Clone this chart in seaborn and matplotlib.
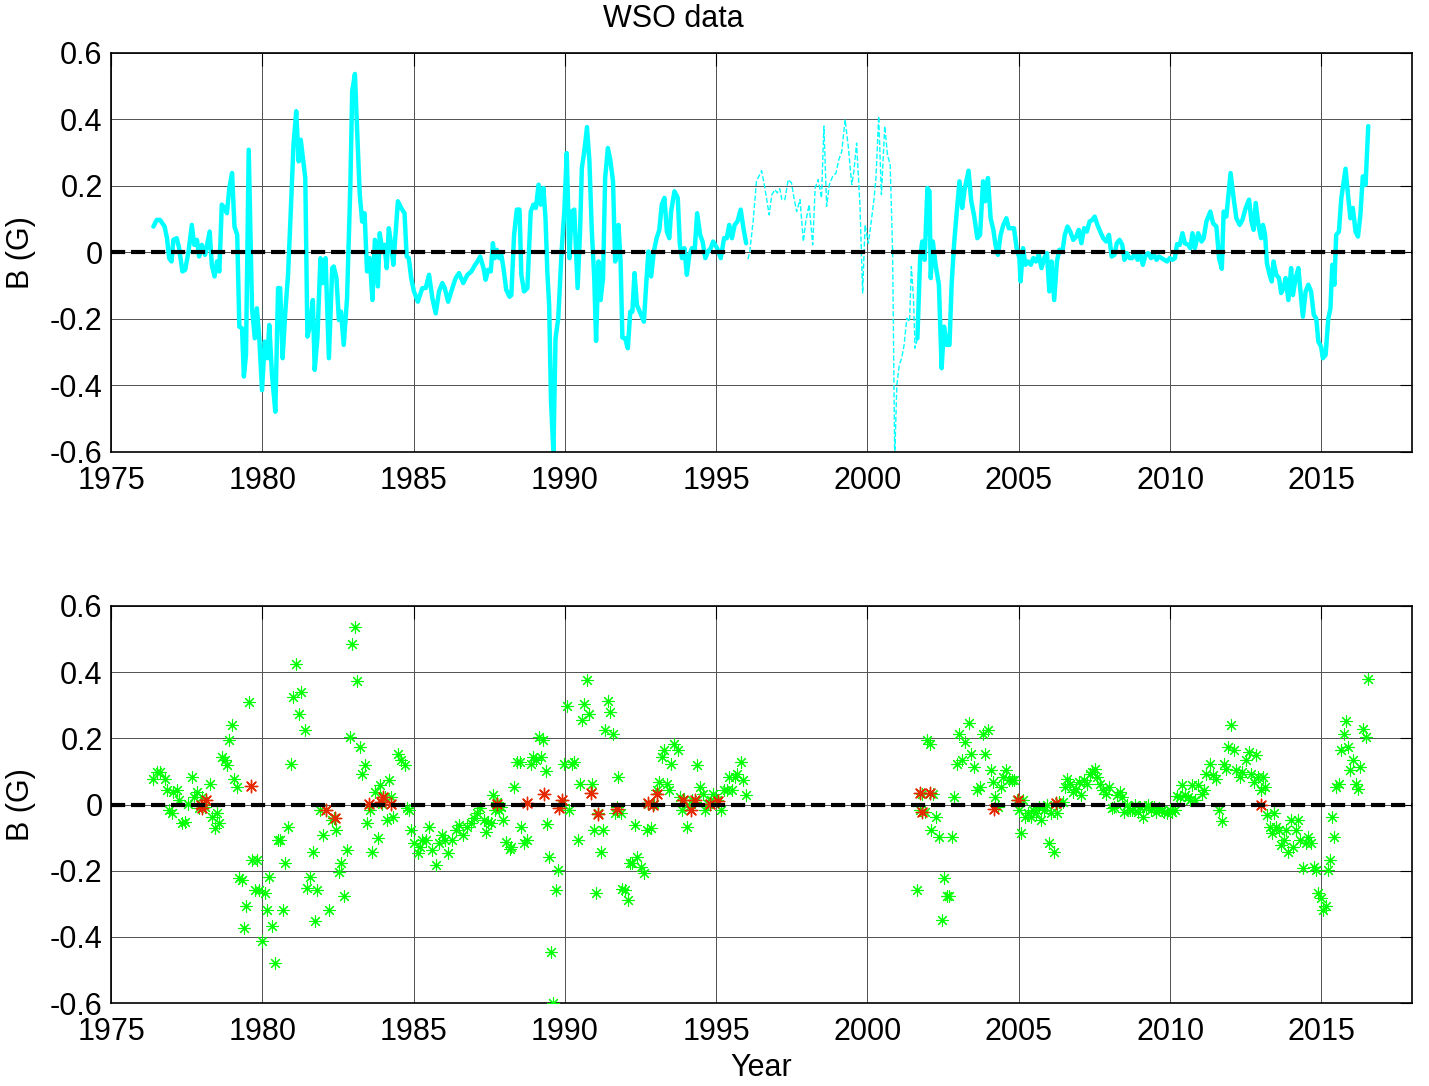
import numpy as np
import pandas as pd
import seaborn as sns
import matplotlib
matplotlib.use("Agg")
import matplotlib.pyplot as plt

# solid part 1 (1976-1996)
years_a = [1976.40, 1976.51, 1976.62, 1976.77, 1976.85, 1976.92, 1977.00, 1977.06, 1977.17, 1977.25,
           1977.36, 1977.45, 1977.56, 1977.67, 1977.75, 1977.84, 1977.91, 1978.00, 1978.11, 1978.26,
           1978.33, 1978.42, 1978.50, 1978.58, 1978.66, 1978.75, 1978.83, 1978.91, 1979.00, 1979.08,
           1979.17, 1979.24, 1979.33, 1979.39, 1979.46, 1979.55, 1979.66, 1979.75, 1979.82, 1979.90,
           1979.99, 1980.08, 1980.17, 1980.23, 1980.32, 1980.43, 1980.52, 1980.59, 1980.67, 1980.76,
           1980.85, 1980.94, 1981.03, 1981.12, 1981.20, 1981.27, 1981.42, 1981.49, 1981.58, 1981.67,
           1981.73, 1981.82, 1981.92, 1981.99, 1982.09, 1982.20, 1982.31, 1982.36, 1982.45, 1982.53,
           1982.60, 1982.69, 1982.80, 1982.91, 1982.97, 1983.06, 1983.13, 1983.22, 1983.30, 1983.38,
           1983.46, 1983.55, 1983.64, 1983.72, 1983.82, 1983.88, 1983.97, 1984.04, 1984.11, 1984.18,
           1984.26, 1984.33, 1984.48, 1984.59, 1984.70, 1984.77, 1984.84, 1984.92, 1985.01, 1985.14,
           1985.21, 1985.29, 1985.40, 1985.51, 1985.62, 1985.73, 1985.84, 1985.95, 1986.03, 1986.14,
           1986.28, 1986.39, 1986.50, 1986.64, 1986.78, 1986.91, 1987.00, 1987.11, 1987.20, 1987.31,
           1987.38, 1987.46, 1987.55, 1987.62, 1987.68, 1987.75, 1987.83, 1987.90, 1987.97, 1988.06,
           1988.17, 1988.23, 1988.32, 1988.41, 1988.50, 1988.56, 1988.65, 1988.76, 1988.87, 1988.96,
           1989.04, 1989.13, 1989.20, 1989.29, 1989.36, 1989.42, 1989.48, 1989.54, 1989.62, 1989.69,
           1989.78, 1989.89, 1989.98, 1990.06, 1990.15, 1990.22, 1990.31, 1990.42, 1990.50, 1990.56,
           1990.64, 1990.73, 1990.81, 1990.89, 1990.97, 1991.03, 1991.11, 1991.18, 1991.26, 1991.33,
           1991.42, 1991.50, 1991.59, 1991.66, 1991.71, 1991.77, 1991.84, 1991.90, 1991.99, 1992.08,
           1992.16, 1992.23, 1992.30, 1992.38, 1992.52, 1992.61, 1992.70, 1992.76, 1992.85, 1992.94,
           1993.03, 1993.12, 1993.20, 1993.29, 1993.37, 1993.45, 1993.51, 1993.62, 1993.73, 1993.80,
           1993.87, 1993.95, 1994.03, 1994.11, 1994.20, 1994.29, 1994.37, 1994.47, 1994.55, 1994.64,
           1994.73, 1994.82, 1994.90, 1995.03, 1995.15, 1995.26, 1995.35, 1995.43, 1995.52, 1995.61,
           1995.70, 1995.81, 1995.90, 1995.99]
vals_a = [0.078, 0.098, 0.098, 0.078, 0.043, -0.017, -0.027, 0.038, 0.043, 0.013,
          -0.057, -0.052, 0.003, 0.083, 0.023, 0.038, -0.012, 0.023, -0.007, 0.063,
          -0.037, -0.072, -0.027, -0.057, 0.144, 0.134, 0.118, 0.194, 0.239, 0.078,
          0.053, -0.223, -0.228, -0.373, -0.308, 0.309, -0.168, -0.258, -0.168, -0.258,
          -0.414, -0.268, -0.318, -0.218, -0.368, -0.479, -0.107, -0.107, -0.318, -0.178,
          -0.067, 0.123, 0.324, 0.425, 0.274, 0.339, 0.224, -0.253, -0.218, -0.143,
          -0.353, -0.258, -0.017, -0.092, -0.017, -0.318, -0.047, -0.042, -0.077, -0.203,
          -0.178, -0.278, -0.138, 0.204, 0.485, 0.537, 0.374, 0.174, 0.093, 0.118,
          -0.057, -0.017, -0.143, 0.038, -0.102, 0.058, 0.003, 0.023, -0.047, 0.073,
          0.023, -0.037, 0.154, 0.134, 0.118, -0.012, -0.017, -0.077, -0.117, -0.148,
          -0.128, -0.107, -0.107, -0.067, -0.138, -0.183, -0.117, -0.092, -0.107, -0.148,
          -0.107, -0.077, -0.062, -0.092, -0.067, -0.057, -0.042, -0.027, -0.012, -0.047,
          -0.082, -0.052, -0.057, 0.028, -0.017, 0.008, -0.017, -0.007, -0.047, -0.112,
          -0.133, -0.128, 0.053, 0.129, 0.129, -0.067, -0.117, -0.107, 0.123, 0.144,
          0.134, 0.204, 0.144, 0.194, 0.100, -0.060, -0.160, -0.446, -0.600, -0.258,
          -0.198, 0.003, 0.123, 0.299, -0.017, 0.123, 0.129, -0.107, 0.063, 0.254,
          0.304, 0.377, 0.274, 0.063, -0.077, -0.266, -0.027, -0.143, -0.077, 0.224,
          0.314, 0.279, 0.214, -0.027, -0.007, 0.083, -0.027, -0.256, -0.258, -0.288,
          -0.178, -0.178, -0.062, -0.158, -0.188, -0.208, -0.077, 0.003, -0.072, 0.003,
          0.043, 0.068, 0.144, 0.164, 0.063, 0.043, 0.123, 0.184, 0.164, 0.023,
          -0.017, 0.013, -0.067, -0.007, 0.013, 0.008, 0.118, 0.053, 0.033, -0.017,
          0.003, 0.013, 0.033, 0.013, -0.017, 0.043, 0.043, 0.083, 0.043, 0.083,
          0.093, 0.129, 0.073, 0.028]

# dashed part (1996-2001.7)
years_gap = [1996.05, 1996.11, 1996.22, 1996.33, 1996.50, 1996.61, 1996.75, 1996.84, 1996.94, 1997.02,
             1997.10, 1997.17, 1997.27, 1997.38, 1997.49, 1997.57, 1997.66, 1997.77, 1997.88, 1997.96,
             1998.07, 1998.19, 1998.27, 1998.37, 1998.48, 1998.56, 1998.65, 1998.74, 1998.85, 1998.96,
             1999.05, 1999.15, 1999.26, 1999.37, 1999.48, 1999.55, 1999.64, 1999.75, 1999.84, 1999.92,
             2000.03, 2000.11, 2000.22, 2000.28, 2000.37, 2000.46, 2000.57, 2000.66, 2000.75, 2000.83,
             2000.90, 2000.97, 2001.05, 2001.13, 2001.21, 2001.30, 2001.39, 2001.45, 2001.52, 2001.57,
             2001.65]
vals_gap = [-0.020, 0.003, 0.093, 0.214, 0.246, 0.194, 0.113, 0.174, 0.189, 0.179,
            0.192, 0.159, 0.159, 0.219, 0.209, 0.164, 0.123, 0.159, 0.033, 0.093,
            0.144, 0.023, 0.194, 0.219, 0.164, 0.380, 0.139, 0.204, 0.229, 0.239,
            0.279, 0.304, 0.400, 0.314, 0.204, 0.244, 0.329, 0.144, -0.122, 0.083,
            0.028, 0.083, 0.164, 0.224, 0.410, 0.174, 0.380, 0.294, 0.264, 0.003,
            -0.620, -0.399, -0.338, -0.318, -0.278, -0.198, -0.208, -0.042, -0.138, -0.288,
            -0.258]

# solid part 2 (2001.7-2016.6)
years_b = [2001.65, 2001.74, 2001.81, 2001.89, 2001.98, 2002.05, 2002.09, 2002.16, 2002.25, 2002.36,
           2002.45, 2002.53, 2002.62, 2002.71, 2002.78, 2002.86, 2002.95, 2003.04, 2003.13, 2003.21,
           2003.34, 2003.43, 2003.52, 2003.63, 2003.72, 2003.82, 2003.89, 2003.98, 2004.07, 2004.16,
           2004.23, 2004.31, 2004.40, 2004.49, 2004.59, 2004.67, 2004.76, 2004.84, 2004.93, 2005.02,
           2005.06, 2005.14, 2005.22, 2005.31, 2005.40, 2005.48, 2005.57, 2005.66, 2005.75, 2005.84,
           2005.93, 2006.01, 2006.08, 2006.17, 2006.26, 2006.34, 2006.45, 2006.52, 2006.61, 2006.70,
           2006.80, 2006.90, 2006.98, 2007.07, 2007.16, 2007.25, 2007.34, 2007.43, 2007.51, 2007.60,
           2007.69, 2007.79, 2007.89, 2007.98, 2008.07, 2008.16, 2008.24, 2008.33, 2008.42, 2008.49,
           2008.57, 2008.66, 2008.75, 2008.84, 2008.93, 2009.02, 2009.10, 2009.19, 2009.28, 2009.37,
           2009.46, 2009.55, 2009.63, 2009.72, 2009.81, 2009.90, 2009.99, 2010.08, 2010.16, 2010.23,
           2010.32, 2010.41, 2010.49, 2010.60, 2010.67, 2010.74, 2010.82, 2010.93, 2011.04, 2011.11,
           2011.20, 2011.33, 2011.42, 2011.53, 2011.62, 2011.71, 2011.77, 2011.86, 2011.93, 2012.00,
           2012.10, 2012.19, 2012.30, 2012.39, 2012.50, 2012.61, 2012.69, 2012.76, 2012.83, 2012.92,
           2013.01, 2013.07, 2013.14, 2013.20, 2013.29, 2013.36, 2013.42, 2013.51, 2013.60, 2013.67,
           2013.75, 2013.82, 2013.91, 2014.00, 2014.06, 2014.15, 2014.24, 2014.30, 2014.39, 2014.48,
           2014.57, 2014.66, 2014.75, 2014.83, 2014.90, 2014.99, 2015.05, 2015.14, 2015.23, 2015.30,
           2015.36, 2015.43, 2015.49, 2015.58, 2015.66, 2015.74, 2015.80, 2015.88, 2015.96, 2016.04,
           2016.13, 2016.21, 2016.29, 2016.37, 2016.46, 2016.55]
vals_b = [-0.258, -0.017, 0.033, -0.022, 0.194, 0.184, -0.077, 0.033, -0.037, -0.097,
          -0.348, -0.223, -0.278, -0.278, -0.097, 0.023, 0.123, 0.214, 0.134, 0.190,
          0.246, 0.154, 0.113, 0.043, 0.053, 0.214, 0.154, 0.224, 0.103, 0.068,
          0.023, -0.007, 0.053, 0.083, 0.103, 0.073, 0.073, 0.073, 0.013, -0.017,
          -0.087, 0.013, -0.037, -0.027, -0.037, -0.017, -0.027, -0.007, -0.047, -0.017,
          -0.002, -0.117, -0.027, -0.143, -0.027, 0.008, 0.008, 0.053, 0.078, 0.063,
          0.038, 0.048, 0.068, 0.028, 0.073, 0.063, 0.093, 0.098, 0.108, 0.083,
          0.063, 0.043, 0.033, 0.053, -0.012, -0.007, 0.028, 0.038, 0.023, -0.022,
          -0.002, -0.017, -0.017, -0.002, -0.022, -0.007, -0.037, -0.007, -0.002, -0.017,
          -0.007, -0.022, -0.012, -0.017, -0.022, -0.027, -0.017, -0.022, -0.017, 0.025,
          0.023, 0.058, 0.028, 0.023, 0.013, 0.058, 0.013, 0.058, 0.033, 0.043,
          0.093, 0.123, 0.088, 0.078, -0.017, -0.049, 0.123, 0.108, 0.174, 0.239,
          0.164, 0.103, 0.083, 0.098, 0.134, 0.159, 0.093, 0.068, 0.149, 0.083,
          0.043, 0.083, 0.053, -0.032, -0.067, -0.087, -0.027, -0.067, -0.077, -0.122,
          -0.107, -0.077, -0.143, -0.047, -0.128, -0.077, -0.047, -0.107, -0.193, -0.117,
          -0.097, -0.117, -0.188, -0.198, -0.268, -0.283, -0.318, -0.308, -0.198, -0.168,
          -0.037, -0.097, 0.053, 0.063, 0.164, 0.214, 0.252, 0.174, 0.103, 0.134,
          0.063, 0.048, 0.113, 0.229, 0.204, 0.380]

# flagged points (red)
red_years = [1977.96, 1978.02, 1978.13, 1979.61, 1982.09, 1982.39, 1983.52, 1983.91, 1983.99, 1984.24,
             1987.76, 1988.75, 1989.31, 1989.82, 1989.90, 1990.86, 1991.11, 1991.71, 1992.76, 1992.92,
             1993.03, 1993.91, 1994.16, 1994.30, 1994.79, 1995.07, 2001.73, 2001.79, 2002.08, 2004.19,
             2004.96, 2006.24, 2013.01]
red_vals = [-0.002, -0.012, 0.013, 0.056, -0.017, -0.042, 0.001, 0.008, 0.023, 0.003,
            0.003, 0.006, 0.033, -0.012, 0.015, 0.035, -0.030, -0.015, 0.005, -0.002,
            0.033, 0.013, -0.017, 0.015, 0.003, 0.010, 0.035, -0.022, 0.035, -0.015,
            0.013, 0.005, 0.000]

xticks = [1975, 1980, 1985, 1990, 1995, 2000, 2005, 2010, 2015]
yticks = [-0.6, -0.4, -0.2, 0, 0.2, 0.4, 0.6]
ytick_labels = ["-0.6", "-0.4", "-0.2", "0", "0.2", "0.4", "0.6"]

sns.set_style("white")
plt.rcParams['font.family'] = ['Liberation Sans', 'DejaVu Sans']
plt.rcParams['axes.unicode_minus'] = False
for k in ['text.color', 'axes.labelcolor', 'xtick.color', 'ytick.color']:
    plt.rcParams[k] = 'black'

fig = plt.figure(figsize=(14.29, 10.86), dpi=100)
ax1 = fig.add_axes([0.0777, 0.5838, 0.9105, 0.3674])
ax2 = fig.add_axes([0.0777, 0.0764, 0.9105, 0.3656])

# top panel: line
sns.lineplot(x=years_a, y=vals_a, ax=ax1, color="#00ffff", lw=3.2, estimator=None, sort=False)
sns.lineplot(x=years_b, y=vals_b, ax=ax1, color="#00ffff", lw=3.2, estimator=None, sort=False)
sns.lineplot(x=years_gap, y=vals_gap, ax=ax1, color="#00ffff", lw=1.0, linestyle="--",
             estimator=None, sort=False)

# bottom panel: scatter
green = pd.DataFrame({"year": years_a + years_b, "B": vals_a + vals_b})
sns.scatterplot(data=green, x="year", y="B", ax=ax2, marker=(8, 2, 0), color="#00ff00",
                s=70, linewidth=0.8, zorder=3)
sns.scatterplot(x=red_years, y=red_vals, ax=ax2, marker=(8, 2, 0), color="#e62a00",
                s=80, linewidth=1.0, zorder=4)

for ax in (ax1, ax2):
    ax.axhline(0, color="black", lw=3, dashes=(3.4, 1.4), zorder=5)
    ax.set_xlim(1975, 2018)
    ax.set_ylim(-0.6, 0.6)
    ax.set_xticks(xticks)
    ax.set_xticklabels([str(t) for t in xticks])
    ax.set_yticks(yticks)
    ax.set_yticklabels(ytick_labels)
    ax.grid(True, color="#505050", lw=0.7)
    ax.tick_params(direction="in", length=9, width=0.8, labelsize=22,
                   top=True, right=True, colors="black")
    ax.tick_params(axis="x", pad=10)
    ax.tick_params(axis="y", pad=6)
    for s in ax.spines.values():
        s.set_color("black")
        s.set_linewidth(1.2)
    ax.set_ylabel("B (G)", fontsize=22, color="black")
    ax.yaxis.set_label_coords(-0.058, 0.5)
    ax.set_xlabel("")

ax2.set_xlabel("Year", fontsize=22, color="black")
ax2.xaxis.set_label_coords(0.5, -0.125)
fig.text(673 / 1429, 1 - 19 / 1086, "WSO data", fontsize=22, ha="center", va="center",
         color="black")

fig.savefig("out.png", dpi=100)
